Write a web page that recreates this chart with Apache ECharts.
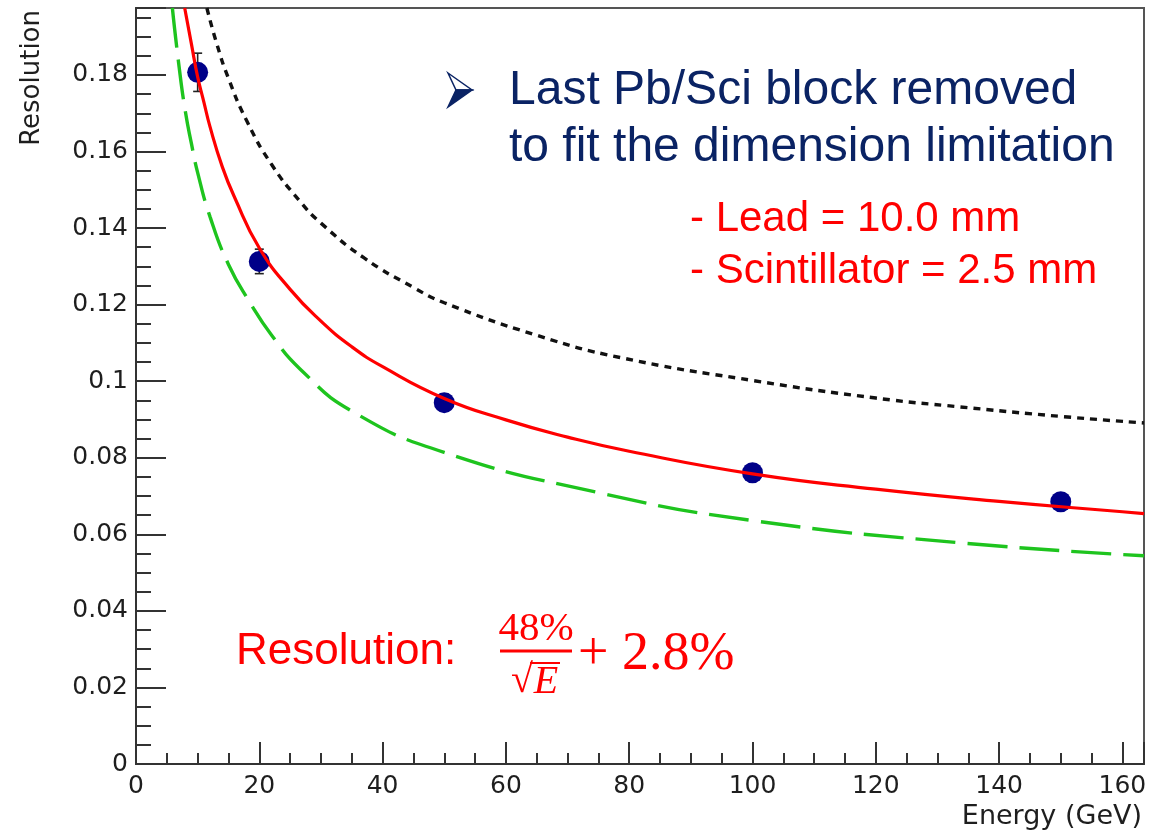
<!DOCTYPE html>
<html>
<head>
<meta charset="utf-8">
<script src="https://cdn.jsdelivr.net/npm/echarts@6/dist/echarts.min.js"></script>
<style>
html,body{margin:0;padding:0;background:#ffffff;}
#chart{width:1170px;height:836px;}
</style>
</head>
<body>
<div id="chart"></div>
<script>
// ---- data ----
const energies   = [10, 20, 50, 100, 150];
const resolution = [0.1807, 0.1313, 0.0944, 0.0761, 0.0685];
const resError   = [0.0050, 0.0032, 0.0022, 0.0018, 0.0016];

// red solid fit curve (E, resolution)
const fitE   = [7.9, 9, 10, 11, 12, 14, 16, 20, 25, 30, 35, 40, 50, 60, 70, 80, 100, 120, 140, 160, 163.5];
const fitRes = [0.1975, 0.188, 0.1795, 0.173, 0.1665, 0.156, 0.148, 0.1348, 0.124, 0.1157, 0.109, 0.1038, 0.0955, 0.0899, 0.0854, 0.0817, 0.0758, 0.0718, 0.0686, 0.0659, 0.0654];

// green long-dashed curve
const greenE   = [5.9, 7, 8, 9, 10, 12, 15, 18.5, 22, 26.6, 35, 50, 75, 100, 133.6, 163.5];
const greenRes = [0.1975, 0.182, 0.1705, 0.162, 0.1545, 0.143, 0.1305, 0.1205, 0.112, 0.1032, 0.0922, 0.0814, 0.0709, 0.0636, 0.0578, 0.0544];

// black dotted curve
const blackE   = [11.5, 13, 15, 18, 22, 26.6, 30, 37, 45, 50, 65, 78.5, 100, 120, 133.6, 150, 163.5];
const blackRes = [0.1975, 0.1887, 0.1791, 0.1679, 0.1566, 0.147, 0.1413, 0.1322, 0.1245, 0.1205, 0.112, 0.1062, 0.1002, 0.0956, 0.0933, 0.0908, 0.0891];

// axes
const xMin = 0, xMax = 163.5, xStep = 20, xMinorStep = 5;
const yMin = 0, yMax = 0.1975, yStep = 0.02, yMinorStep = 0.005;
const xTitle = 'Energy (GeV)';
const yTitle = 'Resolution';

const noteLines  = ['Last Pb/Sci block removed', 'to fit the dimension limitation'];
const specLines  = ['- Lead = 10.0 mm', '- Scintillator = 2.5 mm'];
const formulaLabel = 'Resolution:';
const formulaNum = '48%';
const formulaDen = 'E';
const formulaTail = '+ 2.8%';

// ---- chart ----
const pair = (xs, ys) => xs.map((x, i) => [x, ys[i]]);
const isMultiple = (v, s) => Math.abs(v / s - Math.round(v / s)) < 1e-6;

const navy = '#0a2364';
const red = '#ff0000';
const axisCol = '#333333';
const labelFont = 'DejaVu Sans';
const pptFont = 'Liberation Sans, Arial, sans-serif';
const mathFont = 'Liberation Serif, DejaVu Serif, serif';

const chart = echarts.init(document.getElementById('chart'), null, {renderer: 'canvas'});

const option = {
  backgroundColor: '#ffffff',
  animation: false,
  grid: {
    left: 136, right: 26, top: 8, bottom: 72,
    show: true, borderColor: '#555555', borderWidth: 2, backgroundColor: 'transparent',
    containLabel: false
  },
  xAxis: {
    type: 'value', min: xMin, max: xMax, interval: xStep,
    axisLine: {show: true, onZero: false, lineStyle: {color: axisCol, width: 2}},
    axisTick: {show: true, inside: true, length: 22, lineStyle: {color: axisCol, width: 2}},
    minorTick: {show: true, splitNumber: xStep / xMinorStep, length: 11, lineStyle: {color: axisCol, width: 2}},
    splitLine: {show: false},
    minorSplitLine: {show: false},
    axisLabel: {
      margin: 10, color: '#1e1e1e', fontFamily: labelFont, fontSize: 25,
      formatter: v => isMultiple(v, xStep) ? String(Math.round(v)) : ''
    }
  },
  yAxis: {
    type: 'value', min: yMin, max: yMax, interval: yStep,
    axisLine: {show: true, onZero: false, lineStyle: {color: axisCol, width: 2}},
    axisTick: {show: true, inside: true, length: 30, lineStyle: {color: axisCol, width: 2}},
    minorTick: {show: true, splitNumber: Math.round(yStep / yMinorStep), length: 15, lineStyle: {color: axisCol, width: 2}},
    splitLine: {show: false},
    minorSplitLine: {show: false},
    axisLabel: {
      margin: 8, color: '#1e1e1e', fontFamily: labelFont, fontSize: 25,
      formatter: v => isMultiple(v, yStep) ? (v === 0 ? '0' : String(+v.toFixed(2))) : ''
    }
  },
  series: [
    {
      name: 'errors', type: 'custom',
      data: energies.map((e, i) => [e, resolution[i] - resError[i], resolution[i] + resError[i]]),
      encode: {x: 0, y: [1, 2]},
      renderItem: function (params, api) {
        const x = api.value(0);
        const lo = api.coord([x, api.value(1)]);
        const hi = api.coord([x, api.value(2)]);
        const w = 4.5;
        const st = {stroke: '#222222', lineWidth: 1.6};
        return {
          type: 'group', children: [
            {type: 'line', shape: {x1: lo[0], y1: lo[1], x2: hi[0], y2: hi[1]}, style: st},
            {type: 'line', shape: {x1: lo[0] - w, y1: lo[1], x2: lo[0] + w, y2: lo[1]}, style: st},
            {type: 'line', shape: {x1: hi[0] - w, y1: hi[1], x2: hi[0] + w, y2: hi[1]}, style: st}
          ]
        };
      },
      z: 2
    },
    {
      name: 'data', type: 'scatter', data: pair(energies, resolution),
      symbol: 'circle', symbolSize: 21,
      itemStyle: {color: '#000088', opacity: 1}, z: 3
    },
    {
      name: 'green', type: 'line', data: pair(greenE, greenRes),
      showSymbol: false, symbol: 'none', smooth: 0.5, clip: true,
      lineStyle: {color: '#1ec41e', width: 3.4, type: [40, 12]}, z: 5
    },
    {
      name: 'black', type: 'line', data: pair(blackE, blackRes),
      showSymbol: false, symbol: 'none', smooth: 0.5, clip: true,
      lineStyle: {color: '#111111', width: 3.4, type: [7, 6]}, z: 5
    },
    {
      name: 'fit', type: 'line', data: pair(fitE, fitRes),
      showSymbol: false, symbol: 'none', smooth: 0.5, clip: true,
      lineStyle: {color: red, width: 3.2}, z: 6
    }
  ],
  graphic: [
    // axis titles
    {type: 'text', x: 32, y: 10, rotation: Math.PI / 2,
     style: {text: yTitle, font: '26px ' + labelFont, fill: '#1e1e1e', textAlign: 'right', textVerticalAlign: 'middle', align: 'right', verticalAlign: 'middle'}},
    {type: 'text', x: 1142, y: 817,
     style: {text: xTitle, font: '27px ' + labelFont, fill: '#1e1e1e', textAlign: 'right', textVerticalAlign: 'middle', align: 'right', verticalAlign: 'middle'}},
    // bullet arrow
    {type: 'polygon', shape: {points: [[448, 73], [472, 90], [456, 90]]},
     style: {fill: '#ffffff', stroke: navy, lineWidth: 1.5}},
    {type: 'polygon', shape: {points: [[456, 90], [472, 90], [448, 107]]},
     style: {fill: navy, stroke: navy, lineWidth: 1.5}},
    // navy note
    {type: 'text', x: 509, y: 91,
     style: {text: noteLines[0], font: '48px ' + pptFont, fill: navy, textAlign: 'left', textVerticalAlign: 'middle', align: 'left', verticalAlign: 'middle'}},
    {type: 'text', x: 509, y: 148,
     style: {text: noteLines[1], font: '48px ' + pptFont, fill: navy, textAlign: 'left', textVerticalAlign: 'middle', align: 'left', verticalAlign: 'middle'}},
    // red spec
    {type: 'text', x: 690, y: 219,
     style: {text: specLines[0], font: '42px ' + pptFont, fill: red, textAlign: 'left', textVerticalAlign: 'middle', align: 'left', verticalAlign: 'middle'}},
    {type: 'text', x: 690, y: 271,
     style: {text: specLines[1], font: '42px ' + pptFont, fill: red, textAlign: 'left', textVerticalAlign: 'middle', align: 'left', verticalAlign: 'middle'}},
    // formula
    {type: 'text', x: 236, y: 652,
     style: {text: formulaLabel, font: '44px ' + pptFont, fill: red, textAlign: 'left', textVerticalAlign: 'middle', align: 'left', verticalAlign: 'middle'}},
    {type: 'text', x: 536, y: 629,
     style: {text: formulaNum, font: '41px ' + mathFont, fill: red, textAlign: 'center', textVerticalAlign: 'middle', align: 'center', verticalAlign: 'middle'}},
    {type: 'rect', shape: {x: 500, y: 649.5, width: 72, height: 3}, style: {fill: red}},
    {type: 'text', x: 522, y: 681,
     style: {text: '\u221A', font: '40px ' + mathFont, fill: red, textAlign: 'center', textVerticalAlign: 'middle', align: 'center', verticalAlign: 'middle'}},
    {type: 'line', shape: {x1: 530, y1: 663, x2: 560, y2: 663}, style: {stroke: red, lineWidth: 2}},
    {type: 'text', x: 546, y: 682,
     style: {text: formulaDen, font: 'italic 40px ' + mathFont, fill: red, textAlign: 'center', textVerticalAlign: 'middle', align: 'center', verticalAlign: 'middle'}},
    {type: 'text', x: 578, y: 655,
     style: {text: formulaTail, font: '54px ' + mathFont, fill: red, textAlign: 'left', textVerticalAlign: 'middle', align: 'left', verticalAlign: 'middle'}}
  ]
};
chart.setOption(option);
</script>
</body>
</html>
